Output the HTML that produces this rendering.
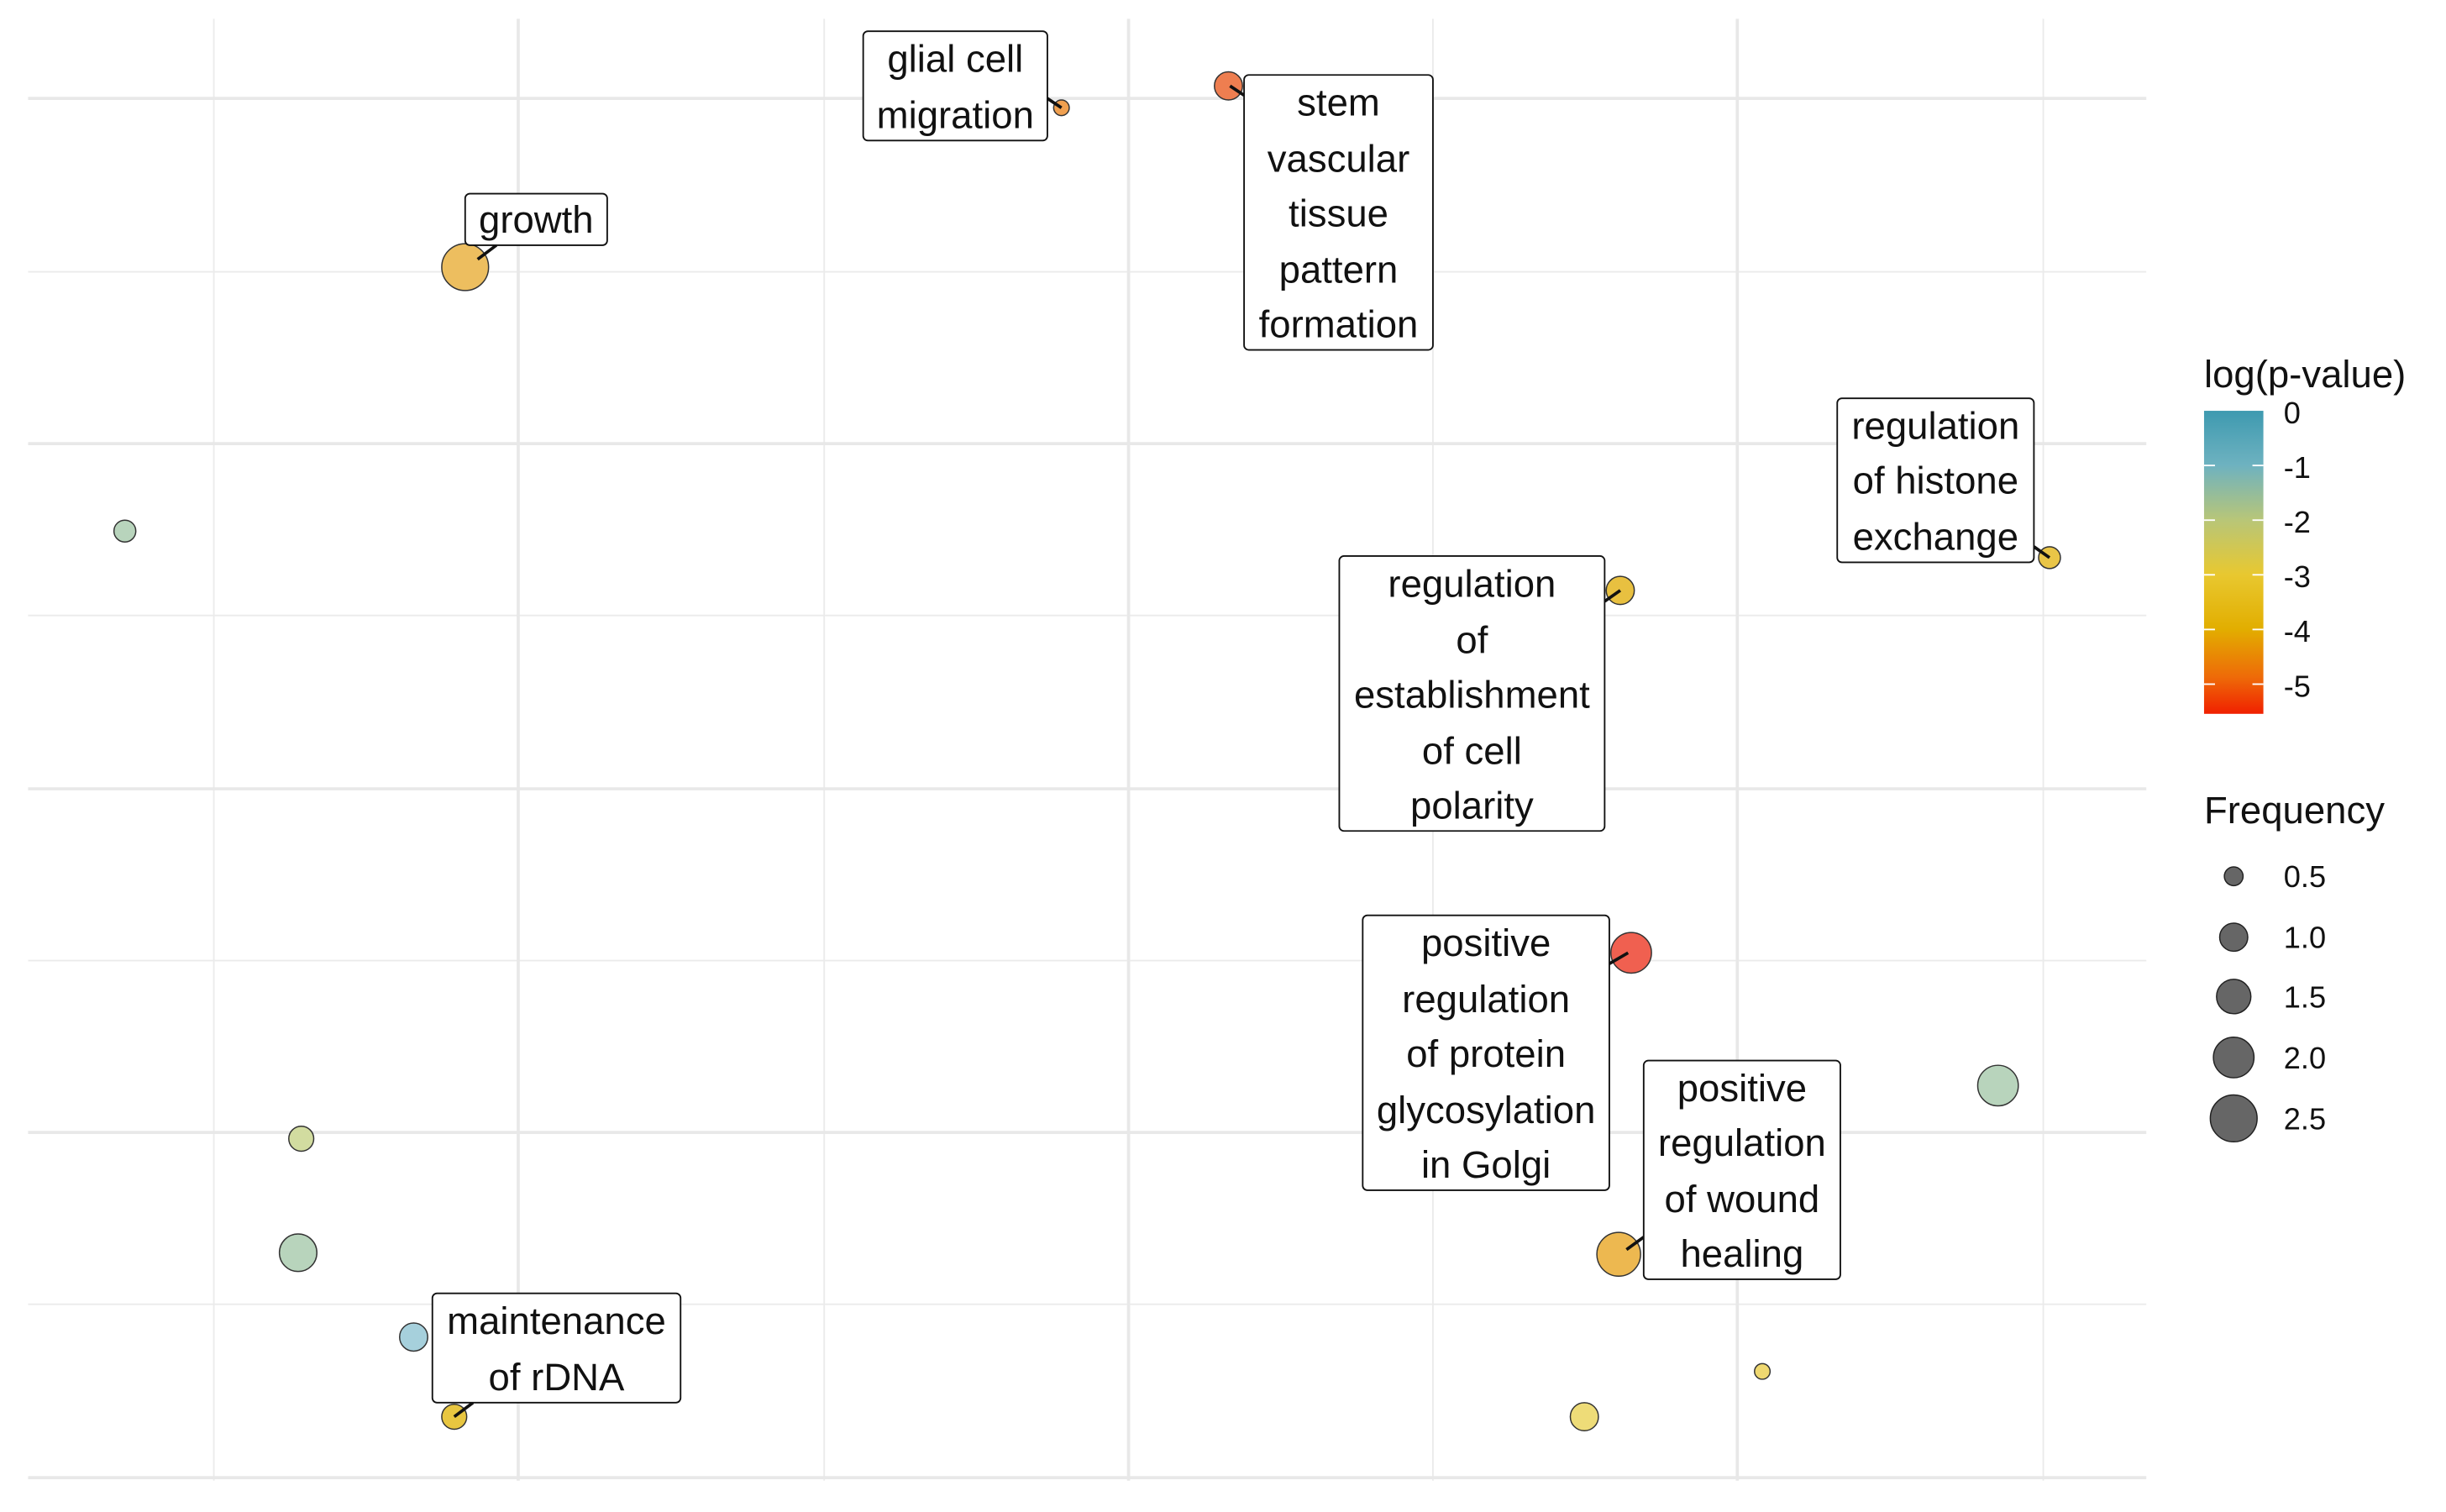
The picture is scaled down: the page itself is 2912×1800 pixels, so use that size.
<!DOCTYPE html>
<html><head><style>html,body{margin:0;padding:0;background:#fff}svg{display:block}</style></head>
<body>
<svg width="2912" height="1800" viewBox="0 0 1567 968" preserveAspectRatio="none" xmlns="http://www.w3.org/2000/svg" font-family="Liberation Sans, sans-serif">
<defs>
<linearGradient id="g" x1="0" y1="0" x2="0" y2="1">
<stop offset="0" stop-color="#3E9AB0"/>
<stop offset="0.18" stop-color="#6EB2C0"/>
<stop offset="0.36" stop-color="#B8C678"/>
<stop offset="0.54" stop-color="#E8C830"/>
<stop offset="0.72" stop-color="#E2AE00"/>
<stop offset="0.88" stop-color="#EE6A08"/>
<stop offset="1" stop-color="#F02000"/>
</linearGradient>
</defs>
<g stroke="#EBEBEB" stroke-width="1">
<line x1="18" y1="174" x2="1375" y2="174"/><line x1="18" y1="394" x2="1375" y2="394"/><line x1="18" y1="615" x2="1375" y2="615"/><line x1="18" y1="835" x2="1375" y2="835"/>
<line x1="137" y1="12" x2="137" y2="948"/><line x1="528" y1="12" x2="528" y2="948"/><line x1="918" y1="12" x2="918" y2="948"/><line x1="1309" y1="12" x2="1309" y2="948"/>
</g>
<g stroke="#E8E8E8" stroke-width="2">
<line x1="18" y1="63" x2="1375" y2="63"/><line x1="18" y1="284" x2="1375" y2="284"/><line x1="18" y1="505" x2="1375" y2="505"/><line x1="18" y1="725" x2="1375" y2="725"/><line x1="18" y1="946" x2="1375" y2="946"/>
<line x1="332" y1="12" x2="332" y2="948"/><line x1="723" y1="12" x2="723" y2="948"/><line x1="1113" y1="12" x2="1113" y2="948"/>
</g>
<g stroke="#333" stroke-width="0.8">
<circle cx="80" cy="340" r="7" fill="#B8D4BC"/>
<circle cx="193" cy="729" r="8" fill="#D2DCA0"/>
<circle cx="191" cy="802" r="12" fill="#B8D4BC"/>
<circle cx="265" cy="856" r="9" fill="#A6D0DC"/>
<circle cx="1280" cy="695" r="13" fill="#B8D4BC"/>
<circle cx="1129" cy="878" r="5" fill="#EFD870"/>
<circle cx="1015" cy="907" r="9" fill="#EEDC78"/>
<circle cx="298" cy="171" r="15" fill="#EDBE5F"/>
<circle cx="680" cy="69" r="5" fill="#F0A050"/>
<circle cx="787" cy="55" r="9" fill="#EE7E50"/>
<circle cx="1313" cy="357" r="7" fill="#E9C547"/>
<circle cx="1038" cy="378" r="9" fill="#E8C040"/>
<circle cx="1045" cy="610" r="13" fill="#F06050"/>
<circle cx="1037" cy="803" r="14" fill="#EDB850"/>
<circle cx="291" cy="907" r="8" fill="#E8C640"/>
</g>
<g stroke="#111" stroke-width="2">
<line x1="306" y1="166" x2="318" y2="157"/>
<line x1="671" y1="63" x2="680" y2="69"/>
<line x1="788" y1="55" x2="797" y2="61"/>
<line x1="1303" y1="350" x2="1313" y2="357"/>
<line x1="1028" y1="385" x2="1038" y2="378"/>
<line x1="1031" y1="617" x2="1043" y2="610"/>
<line x1="1053" y1="792" x2="1042" y2="800"/>
<line x1="291" y1="907" x2="303" y2="898"/>
</g>
<g fill="#fff" stroke="#111" stroke-width="1">
<rect x="298" y="124" width="91" height="33" rx="3"/>
<rect x="553" y="20" width="118" height="70" rx="3"/>
<rect x="797" y="48" width="121" height="176" rx="3"/>
<rect x="1177" y="255" width="126" height="105" rx="3"/>
<rect x="858" y="356" width="170" height="176" rx="3"/>
<rect x="873" y="586" width="158" height="176" rx="3"/>
<rect x="1053" y="679" width="126" height="140" rx="3"/>
<rect x="277" y="828" width="159" height="70" rx="3"/>
</g>
<g font-size="24.5" fill="#111" text-anchor="middle">
<text x="343.5" y="149">growth</text>
<text x="612" y="46">glial cell</text><text x="612" y="82">migration</text>
<text x="857.5" y="74">stem</text><text x="857.5" y="110">vascular</text><text x="857.5" y="145">tissue</text><text x="857.5" y="181">pattern</text><text x="857.5" y="216">formation</text>
<text x="1240" y="281">regulation</text><text x="1240" y="316">of histone</text><text x="1240" y="352">exchange</text>
<text x="943" y="382">regulation</text><text x="943" y="418">of</text><text x="943" y="453">establishment</text><text x="943" y="489">of cell</text><text x="943" y="524">polarity</text>
<text x="952" y="612">positive</text><text x="952" y="648">regulation</text><text x="952" y="683">of protein</text><text x="952" y="719">glycosylation</text><text x="952" y="754">in Golgi</text>
<text x="1116" y="705">positive</text><text x="1116" y="740">regulation</text><text x="1116" y="776">of wound</text><text x="1116" y="811">healing</text>
<text x="356.5" y="854">maintenance</text><text x="356.5" y="890">of rDNA</text>
</g>
<text x="1412" y="248" font-size="24.5" fill="#111">log(p-value)</text>
<rect x="1412" y="263" width="38" height="194" fill="url(#g)"/>
<g stroke="#fff" stroke-width="1">
<line x1="1412" y1="298" x2="1419" y2="298"/><line x1="1443" y1="298" x2="1450" y2="298"/>
<line x1="1412" y1="333" x2="1419" y2="333"/><line x1="1443" y1="333" x2="1450" y2="333"/>
<line x1="1412" y1="368" x2="1419" y2="368"/><line x1="1443" y1="368" x2="1450" y2="368"/>
<line x1="1412" y1="403" x2="1419" y2="403"/><line x1="1443" y1="403" x2="1450" y2="403"/>
<line x1="1412" y1="438" x2="1419" y2="438"/><line x1="1443" y1="438" x2="1450" y2="438"/>
</g>
<g font-size="19.5" fill="#111">
<text x="1463" y="271">0</text><text x="1463" y="306">-1</text><text x="1463" y="341">-2</text><text x="1463" y="376">-3</text><text x="1463" y="411">-4</text><text x="1463" y="446">-5</text>
</g>
<text x="1412" y="527" font-size="24.5" fill="#111">Frequency</text>
<g fill="#666" stroke="#222" stroke-width="0.8">
<circle cx="1431" cy="561" r="6"/><circle cx="1431" cy="600" r="9"/><circle cx="1431" cy="638" r="11"/><circle cx="1431" cy="677" r="13"/><circle cx="1431" cy="716" r="15"/>
</g>
<g font-size="19.5" fill="#111">
<text x="1463" y="568">0.5</text><text x="1463" y="607">1.0</text><text x="1463" y="645">1.5</text><text x="1463" y="684">2.0</text><text x="1463" y="723">2.5</text>
</g>
</svg>
</body></html>
